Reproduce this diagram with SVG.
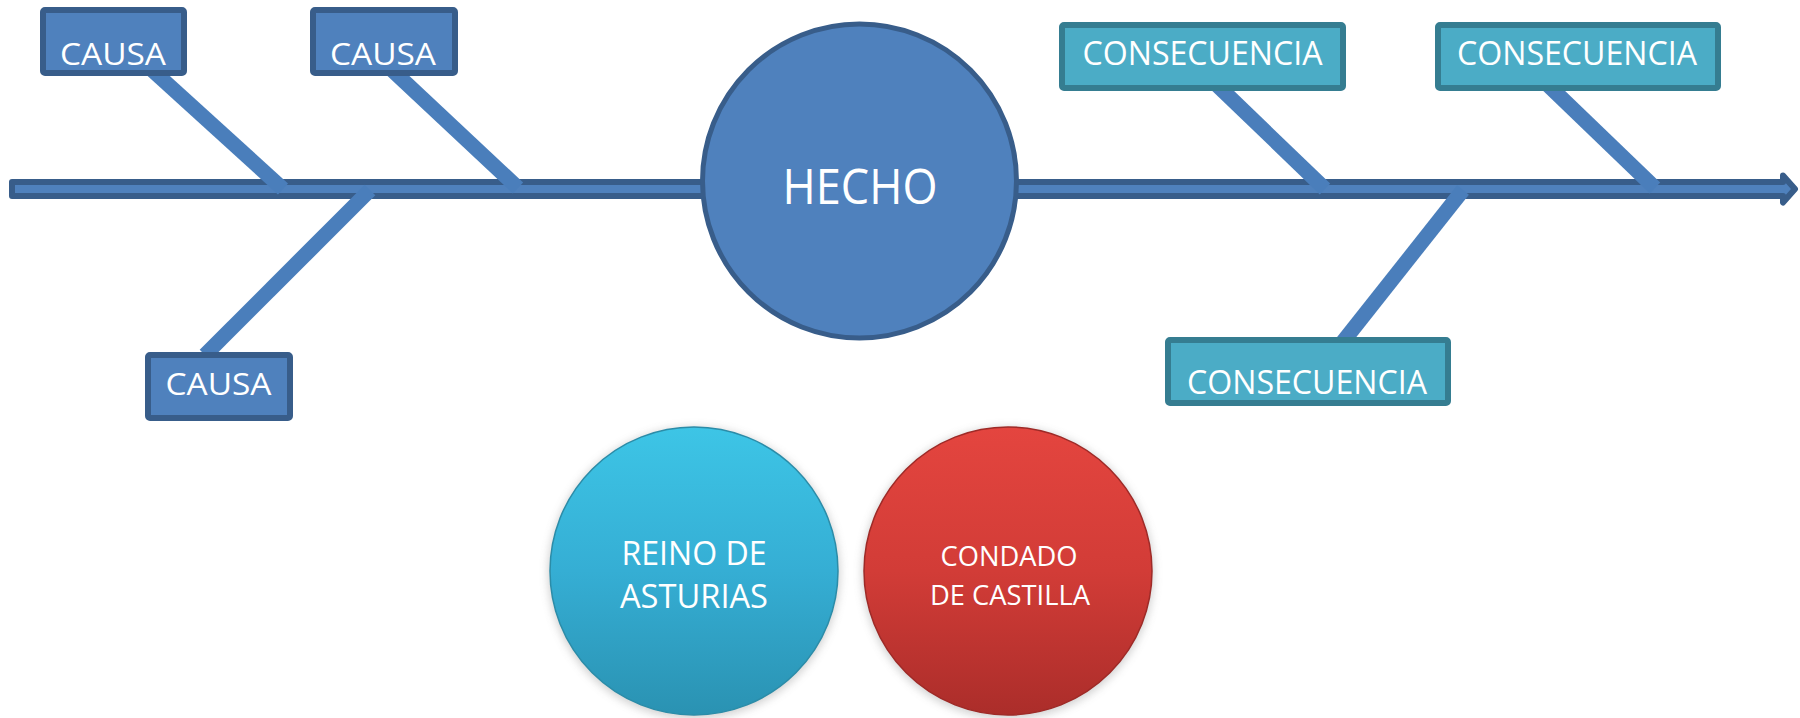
<svg xmlns="http://www.w3.org/2000/svg" width="1800" height="718" viewBox="0 0 1800 718">
<defs>
<style>
.txt{font-family:"Open Sans","Noto Sans","Liberation Sans",sans-serif;fill:#ffffff;text-anchor:middle}
.causa{fill:#4f81bd;stroke:#385d8a;stroke-width:6}
.cons{fill:#4bacc6;stroke:#357d91;stroke-width:6}
.bone{stroke:#4a7ebb;stroke-width:15;stroke-linecap:butt;fill:none}
</style>
<linearGradient id="gBlue" x1="0" y1="0" x2="0" y2="1">
<stop offset="0" stop-color="#3dc5e6"/>
<stop offset="0.5" stop-color="#35aed4"/>
<stop offset="1" stop-color="#2a92b2"/>
</linearGradient>
<linearGradient id="gRed" x1="0" y1="0" x2="0" y2="1">
<stop offset="0" stop-color="#e4453f"/>
<stop offset="0.5" stop-color="#d23c37"/>
<stop offset="1" stop-color="#ab2d2a"/>
</linearGradient>
<filter id="soft" x="-20%" y="-20%" width="140%" height="140%">
<feGaussianBlur stdDeviation="4"/>
</filter>
</defs>
<rect width="1800" height="718" fill="#ffffff"/>
<g id="connectors">
<path id="spine" d="M12,182 L1783,182 L1783,175.5 L1795,189 L1783,202.5 L1783,196 L12,196 Z" fill="#4f81bd" stroke="#385d8a" stroke-width="6" stroke-linejoin="round"/>
<path class="bone" d="M151,69 L283,189"/>
<path class="bone" d="M391,69 L518,188"/>
<path class="bone" d="M370,190 L205,355"/>
<path class="bone" d="M1217,85 L1325,189"/>
<path class="bone" d="M1548,85 L1655,188"/>
<path class="bone" d="M1463,190 L1342,343"/>
</g>
<g id="causa1"><rect class="causa" x="43" y="10" width="141" height="63" rx="2"/><text class="txt" x="113" y="65" font-size="31" textLength="106" lengthAdjust="spacingAndGlyphs">CAUSA</text></g>
<g id="causa2"><rect class="causa" x="313" y="10" width="142" height="63" rx="2"/><text class="txt" x="383" y="65" font-size="31" textLength="106" lengthAdjust="spacingAndGlyphs">CAUSA</text></g>
<g id="causa3"><rect class="causa" x="148" y="355" width="142" height="63" rx="2"/><text class="txt" x="218.5" y="395" font-size="31" textLength="106" lengthAdjust="spacingAndGlyphs">CAUSA</text></g>
<g id="hecho"><circle cx="859.5" cy="181" r="157" fill="#4f81bd" stroke="#385d8a" stroke-width="5"/><text class="txt" x="860" y="204" font-size="49" textLength="155" lengthAdjust="spacingAndGlyphs">HECHO</text></g>
<g id="consecuencia1"><rect class="cons" x="1062" y="25" width="281" height="63" rx="2"/><text class="txt" x="1202.5" y="65" font-size="32" textLength="240" lengthAdjust="spacingAndGlyphs">CONSECUENCIA</text></g>
<g id="consecuencia2"><rect class="cons" x="1438" y="25" width="280" height="63" rx="2"/><text class="txt" x="1577" y="65" font-size="32" textLength="240" lengthAdjust="spacingAndGlyphs">CONSECUENCIA</text></g>
<g id="consecuencia3"><rect class="cons" x="1168" y="340" width="280" height="63" rx="2"/><text class="txt" x="1307" y="394" font-size="32" textLength="240" lengthAdjust="spacingAndGlyphs">CONSECUENCIA</text></g>
<g id="reino">
<circle cx="694" cy="573" r="146" fill="#9a9a9a" opacity="0.45" filter="url(#soft)"/>
<circle cx="694" cy="571" r="144" fill="url(#gBlue)" stroke="#2b8ca8" stroke-width="1.5"/>
<text class="txt" x="694" y="565" font-size="32" textLength="145" lengthAdjust="spacingAndGlyphs">REINO DE</text>
<text class="txt" x="694" y="608" font-size="32" textLength="148" lengthAdjust="spacingAndGlyphs">ASTURIAS</text>
</g>
<g id="condado">
<circle cx="1008" cy="573" r="146" fill="#9a9a9a" opacity="0.45" filter="url(#soft)"/>
<circle cx="1008" cy="571" r="144" fill="url(#gRed)" stroke="#9e2a27" stroke-width="1.5"/>
<text class="txt" x="1009" y="566" font-size="28" textLength="137" lengthAdjust="spacingAndGlyphs">CONDADO</text>
<text class="txt" x="1010" y="605" font-size="28" textLength="160" lengthAdjust="spacingAndGlyphs">DE CASTILLA</text>
</g>
</svg>
